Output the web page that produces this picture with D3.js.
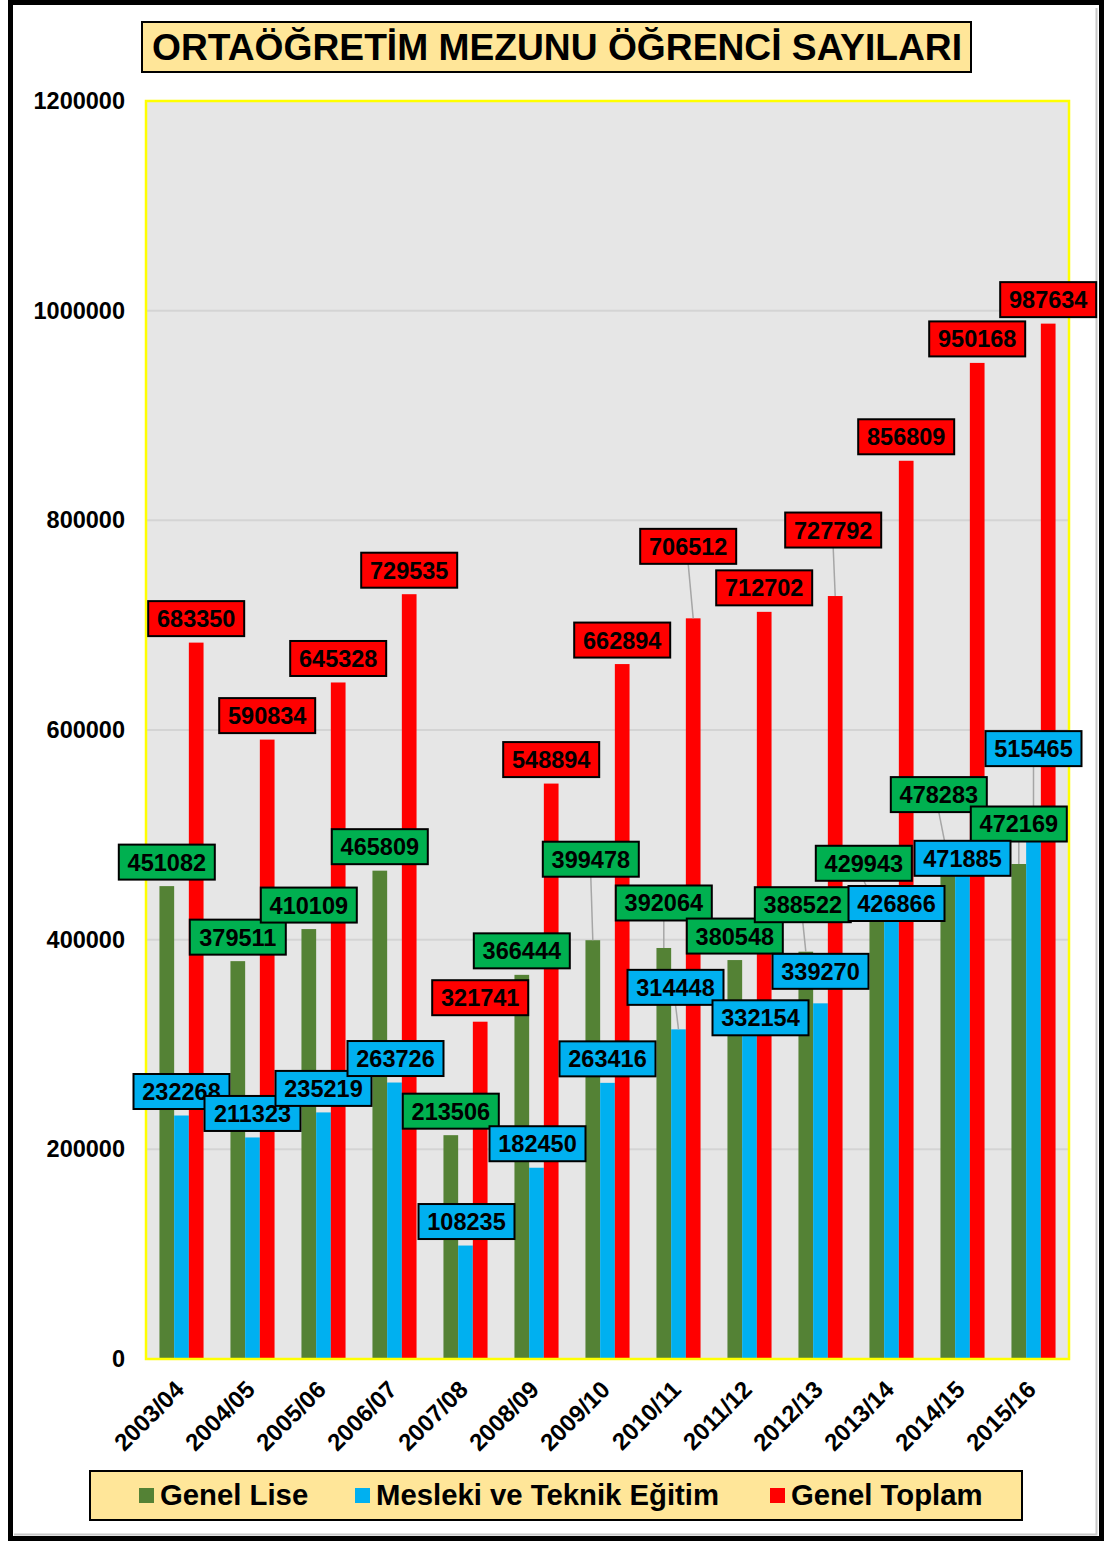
<!DOCTYPE html>
<html>
<head>
<meta charset="utf-8">
<script src="https://cdn.jsdelivr.net/npm/d3@7"></script>
<style>
  html, body { margin: 0; padding: 0; background: #fff; }
  svg { display: block; font-family: "Liberation Sans", Arial, sans-serif; font-weight: bold; }
</style>
</head>
<body>
<div id="chart"></div>
<script>
(function () {
  "use strict";

  const categories = ["2003/04", "2004/05", "2005/06", "2006/07", "2007/08", "2008/09", "2009/10",
    "2010/11", "2011/12", "2012/13", "2013/14", "2014/15", "2015/16"];
  const genelLise = [451082, 379511, 410109, 465809, 213506, 366444, 399478, 392064, 380548, 388522, 429943, 478283, 472169];
  const mesleki = [232268, 211323, 235219, 263726, 108235, 182450, 263416, 314448, 332154, 339270, 426866, 471885, 515465];
  const genelToplam = [683350, 590834, 645328, 729535, 321741, 548894, 662894, 706512, 712702, 727792, 856809, 950168, 987634];
  const yTicks = [0, 200000, 400000, 600000, 800000, 1000000, 1200000];
  const seriesNames = ["Genel Lise", "Mesleki ve Teknik Eğitim", "Genel Toplam"];

  // label box offsets (px) from the top centre of each bar, hand placed like in the original
  const labelDx = [
    [0, 0, 0, 0, 0, 0, -2, 0, 0, -3, -13, -9, 0],
    [0, 0, 0, 1, 1, 1, 0, -3, 11, 0, 5, 0, 0],
    [0, 0, 0, 0, 0, 0, 0, -5, 0, -2, 0, 0, 0]
  ];
  const labelDy = [
    [-24, -24, -24, -24, -24, -24, -81, -45, -24, -47, -45, -63, -40],
    [-24, -24, -24, -24, -24, -24, -24, -42, 7, -32, -8, -6, -70],
    [-24, -24, -24, -24, -24, -24, -24, -72, -24, -66, -24, -24, -24]
  ];

  const W = 1105, H = 1541;
  const plot = { left: 146, right: 1069, top: 101, bottom: 1359 };
  const barColors = ["#548235", "#00b0f0", "#ff0000"];
  const boxColors = ["#00b050", "#00b0f0", "#ff0000"];

  const svg = d3.select("#chart").append("svg")
    .attr("width", W).attr("height", H)
    .attr("viewBox", `0 0 ${W} ${H}`);

  // outer frame
  svg.append("rect").attr("x", 0).attr("y", 0).attr("width", W).attr("height", H).attr("fill", "#fff");
  svg.append("rect")
    .attr("x", 10.5).attr("y", 2.5).attr("width", 1091).attr("height", 1536)
    .attr("fill", "none").attr("stroke", "#000").attr("stroke-width", 5);
  svg.append("path")
    .attr("d", "M1096.5,8 V1534.5 H14")
    .attr("fill", "none").attr("stroke", "#c8c8c8").attr("stroke-width", 2);

  const x = d3.scaleBand().domain(categories).range([plot.left, plot.right]).padding(0);
  const y = d3.scaleLinear().domain([0, 1200000]).range([plot.bottom, plot.top]);
  const bw = x.bandwidth() * 0.207;
  const sub = d3.scaleBand().domain([0, 1, 2]).range([-1.5 * bw, 1.5 * bw]).padding(0);

  // plot area
  svg.append("rect")
    .attr("x", plot.left).attr("y", plot.top)
    .attr("width", plot.right - plot.left).attr("height", plot.bottom - plot.top)
    .attr("fill", "#e6e6e6");

  svg.append("g").selectAll("line")
    .data(yTicks.slice(1, -1))
    .enter().append("line")
    .attr("x1", plot.left).attr("x2", plot.right)
    .attr("y1", d => y(d)).attr("y2", d => y(d))
    .attr("stroke", "#d4d4d4").attr("stroke-width", 2);

  // y axis labels
  const yAxis = d3.axisLeft(y).tickValues(yTicks).tickFormat(d => String(d)).tickSize(0).tickPadding(21);
  const yg = svg.append("g").attr("transform", `translate(${plot.left},0)`).call(yAxis);
  yg.select(".domain").remove();
  yg.selectAll("text")
    .attr("font-family", "Liberation Sans, Arial, sans-serif")
    .attr("font-weight", "bold").attr("font-size", 23.5).attr("fill", "#000");

  // x axis labels
  const xAxis = d3.axisBottom(x).tickSize(0).tickPadding(0);
  const xg = svg.append("g").attr("transform", `translate(0,${plot.bottom})`).call(xAxis);
  xg.select(".domain").remove();
  xg.selectAll("text")
    .attr("font-family", "Liberation Sans, Arial, sans-serif")
    .attr("font-weight", "bold").attr("font-size", 24).attr("fill", "#000")
    .attr("text-anchor", "end")
    .attr("dy", 0)
    .attr("transform", "translate(4,32) rotate(-45)");

  const series = [genelLise, mesleki, genelToplam];

  // bars
  series.forEach((vals, s) => {
    svg.append("g").selectAll("rect")
      .data(vals)
      .enter().append("rect")
      .attr("x", (d, i) => x(categories[i]) + x.bandwidth() / 2 + sub(s))
      .attr("y", d => y(d))
      .attr("width", bw)
      .attr("height", d => y(0) - y(d))
      .attr("fill", barColors[s]);
  });

  // plot border
  svg.append("rect")
    .attr("x", plot.left).attr("y", plot.top)
    .attr("width", plot.right - plot.left).attr("height", plot.bottom - plot.top)
    .attr("fill", "none").attr("stroke", "#ffff00").attr("stroke-width", 2.5);

  // data labels
  const boxW = 96, boxH = 35;
  const labels = [];
  series.forEach((vals, s) => {
    vals.forEach((v, i) => {
      const bx = x(categories[i]) + x.bandwidth() / 2 + sub(s) + bw / 2;
      const by = y(v);
      labels.push({ s, v, bx, by, cx: bx + labelDx[s][i], cy: by + labelDy[s][i] });
    });
  });

  svg.append("g").selectAll("line")
    .data(labels.filter(d => d.by - d.cy > 35))
    .enter().append("line")
    .attr("x1", d => d.cx).attr("y1", d => d.cy + boxH / 2)
    .attr("x2", d => d.bx).attr("y2", d => d.by)
    .attr("stroke", "#a6a6a6").attr("stroke-width", 1.5);

  const lg = svg.append("g").selectAll("g")
    .data(labels)
    .enter().append("g")
    .attr("transform", d => `translate(${d.cx},${d.cy})`);
  lg.append("rect")
    .attr("x", -boxW / 2).attr("y", -boxH / 2)
    .attr("width", boxW).attr("height", boxH)
    .attr("fill", d => boxColors[d.s])
    .attr("stroke", "#000").attr("stroke-width", 2);
  lg.append("text")
    .attr("text-anchor", "middle").attr("dy", "0.36em")
    .attr("font-size", 23.5).attr("fill", "#000")
    .text(d => d.v);

  // title
  svg.append("rect")
    .attr("x", 142).attr("y", 22).attr("width", 829).attr("height", 50)
    .attr("fill", "#ffe699").attr("stroke", "#000").attr("stroke-width", 2);
  svg.append("text")
    .attr("x", 557).attr("y", 60)
    .attr("text-anchor", "middle").attr("font-size", 37).attr("fill", "#000")
    .attr("textLength", 810).attr("lengthAdjust", "spacingAndGlyphs")
    .text("ORTAÖĞRETİM MEZUNU ÖĞRENCİ SAYILARI");

  // legend
  svg.append("rect")
    .attr("x", 90).attr("y", 1471).attr("width", 932).attr("height", 49)
    .attr("fill", "#ffe699").attr("stroke", "#000").attr("stroke-width", 2);
  const legendX = [139, 355, 770];
  const leg = svg.append("g").selectAll("g")
    .data(seriesNames)
    .enter().append("g")
    .attr("transform", (d, i) => `translate(${legendX[i]},1488)`);
  leg.append("rect").attr("width", 15).attr("height", 15).attr("fill", (d, i) => barColors[i]);
  leg.append("text")
    .attr("x", 21).attr("y", 17)
    .attr("font-size", 29.3).attr("fill", "#000")
    .text(d => d);
})();
</script>
</body>
</html>
